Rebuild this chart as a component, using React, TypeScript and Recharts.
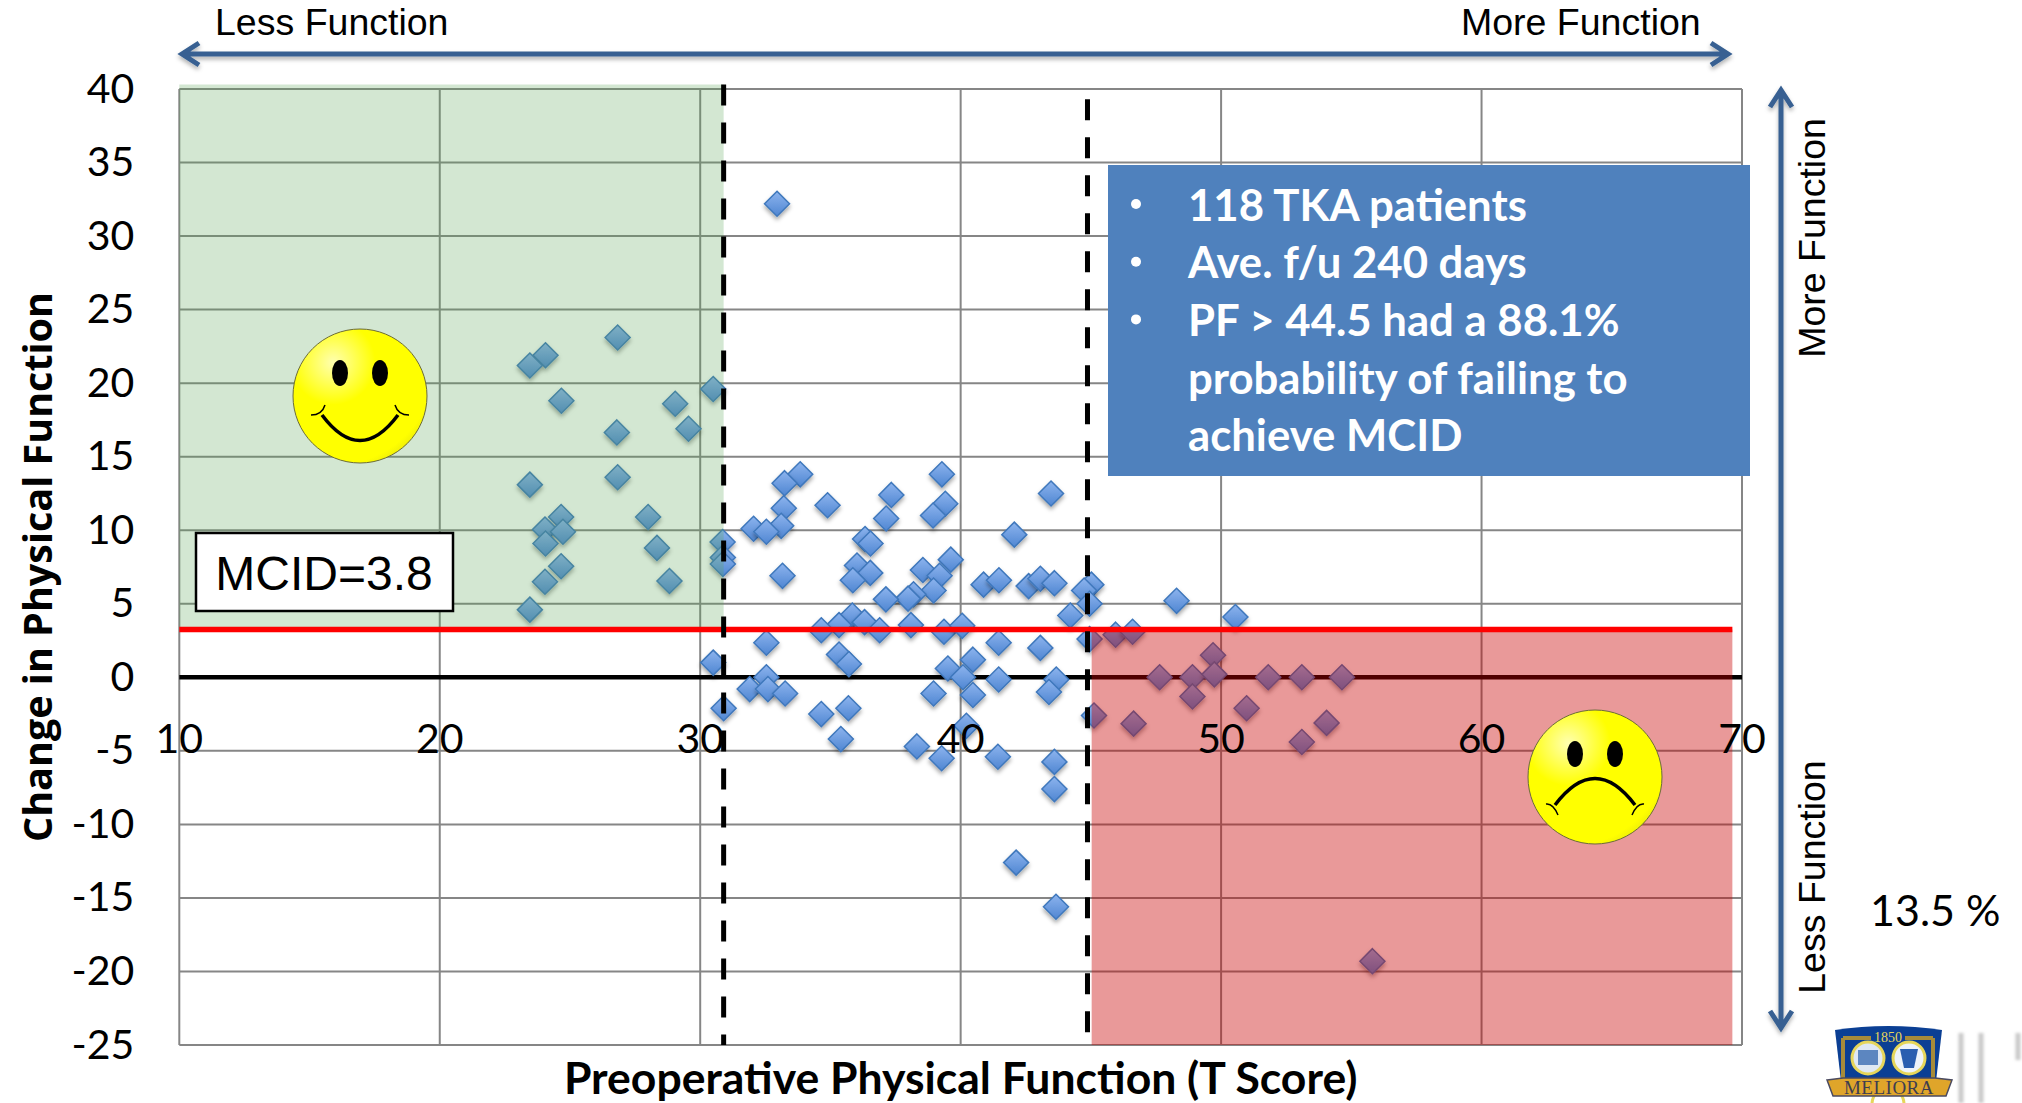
import { ScatterChart, Scatter, XAxis, YAxis, CartesianGrid, ReferenceLine, ReferenceArea, Label } from "recharts";

const preopScore = [
  26.83, 24.06, 23.46, 24.67, 30.5, 29.04, 29.55, 26.8, 26.83, 23.46, 24.66, 28.0, 24.04, 24.73, 24.06, 28.34, 30.86,
  30.87, 30.87, 24.66, 24.04, 28.82, 23.46, 32.95, 33.84, 33.24, 33.21, 33.11, 32.05, 32.54, 34.89, 37.34, 37.14, 39.28,
  39.41, 38.94, 43.47, 42.06, 36.33, 36.54, 33.16, 36.02, 36.53, 35.86, 39.62, 38.55, 39.19, 38.96, 38.19, 37.98, 37.13,
  40.88, 41.47, 42.61, 43.06, 43.6, 45.02, 44.74, 44.95, 44.21, 35.84, 36.31, 35.33, 34.65, 36.89, 38.09, 39.36, 40.06,
  41.46, 32.54, 43.06, 44.95, 45.95, 46.6, 35.33, 35.71, 30.5, 40.47, 39.51, 40.09, 41.46, 43.67, 43.39, 32.54, 31.9,
  32.6, 33.26, 38.96, 40.47, 30.9, 34.65, 35.69, 45.12, 46.64, 40.22, 35.4, 38.32, 39.27, 41.43, 43.6, 43.6, 42.13,
  43.66, 48.29, 50.55, 49.69, 47.64, 48.9, 49.74, 51.81, 53.1, 54.64, 48.9, 50.98, 54.05, 53.1, 55.81,
];
const changeScore = [
  23.1, 21.9, 21.2, 18.8, 19.6, 18.6, 16.9, 16.65, 13.6, 13.1, 10.9, 10.9, 10.05, 9.9, 9.1, 8.8, 9.2,
  8.15, 7.7, 7.55, 6.5, 6.55, 4.6, 32.2, 13.8, 13.2, 11.5, 10.3, 10.1, 9.9, 11.7, 12.4, 10.8, 13.8,
  11.8, 11.0, 12.5, 9.7, 9.4, 9.1, 6.9, 7.6, 7.1, 6.6, 8.0, 7.3, 6.9, 5.9, 5.65, 5.35, 5.3,
  6.3, 6.6, 6.2, 6.7, 6.4, 6.3, 5.9, 5.0, 4.2, 4.2, 3.75, 3.55, 3.2, 3.2, 3.55, 3.1, 3.5,
  2.35, 2.35, 2.0, 2.6, 2.9, 3.1, 1.55, 0.9, 1.0, 1.2, 0.6, 0, -0.15, -0.15, -1.0, 0, -0.8,
  -0.8, -1.1, -1.1, -1.2, -2.1, -2.5, -2.1, -2.6, -3.15, -3.3, -4.2, -4.7, -5.5, -5.4, -5.75, -7.6, -12.6,
  -15.6, 5.2, 4.1, 1.5, 0, 0, 0.2, 0, 0, 0, -1.3, -2.1, -3.1, -4.4, -19.3,
];
const patients = preopScore.map((x, i) => ({ x, y: changeScore[i] }));

const xTicks = [10, 20, 30, 40, 50, 60, 70];
const yTicks = [40, 35, 30, 25, 20, 15, 10, 5, 0, -5, -10, -15, -20, -25];
const mcidLine = 3.25;
const lowCut = 30.9;
const highCut = 44.87;
const bullets = ["118 TKA patients", "Ave. f/u 240 days", "PF > 44.5 had a 88.1%"];
const bulletRest = ["probability of failing to", "achieve MCID"];

const Diamond = (props: any) => {
  const { cx, cy } = props;
  const r = 12.5;
  return (
    <path
      d={`M${cx},${cy - r}L${cx + r},${cy}L${cx},${cy + r}L${cx - r},${cy}Z`}
      fill="url(#markerFill)"
      stroke="#3f78bc"
      strokeWidth={1.5}
      filter="url(#markerShadow)"
    />
  );
};

const XTick = (props: any) => (
  <text x={props.x} y={props.y - 300} textAnchor="middle" fontSize={41} fontFamily="Lato" fill="#000">
    {props.payload.value}
  </text>
);

const Smiley = ({ cx, cy, sad }: { cx: number; cy: number; sad?: boolean }) => (
  <g>
    <circle cx={cx} cy={cy} r={67} fill="url(#faceFill)" stroke="#6b6b3a" strokeWidth={1} />
    <ellipse cx={cx - 20} cy={cy - 23} rx={8} ry={13} fill="#000" />
    <ellipse cx={cx + 20} cy={cy - 23} rx={8} ry={13} fill="#000" />
    {sad ? (
      <g fill="none" stroke="#000">
        <path d={`M${cx - 40},${cy + 28} Q${cx},${cy - 25} ${cx + 40},${cy + 28}`} strokeWidth={3.5} />
        <path d={`M${cx - 49},${cy + 27} Q${cx - 42},${cy + 26} ${cx - 37},${cy + 38}`} strokeWidth={1.5} />
        <path d={`M${cx + 49},${cy + 27} Q${cx + 42},${cy + 26} ${cx + 37},${cy + 38}`} strokeWidth={1.5} />
      </g>
    ) : (
      <g fill="none" stroke="#000">
        <path d={`M${cx - 38},${cy + 19} Q${cx},${cy + 70} ${cx + 38},${cy + 19}`} strokeWidth={3.5} />
        <path d={`M${cx - 49},${cy + 19} Q${cx - 38},${cy + 19} ${cx - 35},${cy + 9}`} strokeWidth={1.5} />
        <path d={`M${cx + 49},${cy + 19} Q${cx + 38},${cy + 19} ${cx + 35},${cy + 9}`} strokeWidth={1.5} />
      </g>
    )}
  </g>
);

export default function App() {
  return (
    <div style={{ position: "absolute", left: 0, top: 0, width: 2022, height: 1103, overflow: "hidden", background: "#fff" }}>
      <ScatterChart width={2022} height={1103} margin={{ top: 89, right: 280, bottom: 57, left: 119.3 }}>
        <defs>
          <linearGradient id="markerFill" x1="0" y1="0" x2="0" y2="1">
            <stop offset="0%" stopColor="#8db4ee" />
            <stop offset="100%" stopColor="#4f86d2" />
          </linearGradient>
          <filter id="markerShadow" x="-30%" y="-30%" width="160%" height="170%">
            <feDropShadow dx={0} dy={3} stdDeviation={2} floodColor="#000" floodOpacity={0.35} />
          </filter>
        </defs>
        <CartesianGrid stroke="#868686" strokeWidth={2} />
        <XAxis
          type="number"
          dataKey="x"
          domain={[10, 70]}
          ticks={xTicks}
          height={1}
          axisLine={false}
          tickLine={false}
          tick={<XTick />}
          interval={0}
        >
          <Label
            value="Preoperative Physical Function (T Score)"
            position="bottom"
            offset={16}
            style={{ fontSize: 44.5, fontWeight: 700, fontFamily: "Lato", fill: "#000" }}
          />
        </XAxis>
        <YAxis
          type="number"
          dataKey="y"
          domain={[-25, 40]}
          ticks={yTicks}
          width={60}
          axisLine={false}
          tickLine={false}
          tickSize={0}
          tickMargin={45}
          interval={0}
          tick={{ fontSize: 41, fontFamily: "Lato", fill: "#000", dy: -1 }}
        >
          <Label
            value="Change in Physical Function"
            angle={-90}
            position="left"
            offset={81}
            style={{ fontSize: 39.5, fontWeight: 700, fontFamily: "Open Sans", fill: "#000", textAnchor: "middle" }}
          />
        </YAxis>
        <ReferenceLine y={0} stroke="#000" strokeWidth={4.5} />
        <Scatter data={patients} shape={<Diamond />} isAnimationActive={false} />
        <ReferenceArea zIndex={650} x1={10} x2={lowCut} y1={mcidLine} y2={40.3} fill="#5ca759" fillOpacity={0.27} stroke="none" ifOverflow="visible" />
        <ReferenceArea zIndex={650} x1={45.03} x2={69.63} y1={-25} y2={mcidLine} fill="#c80000" fillOpacity={0.4} stroke="none" ifOverflow="visible" />
        <ReferenceLine
          zIndex={700}
          segment={[{ x: 10, y: mcidLine }, { x: 69.63, y: mcidLine }]}
          stroke="#ff0000"
          strokeWidth={5.5}
        />
        <ReferenceLine
          zIndex={750}
          segment={[{ x: lowCut, y: 40.3 }, { x: lowCut, y: -25 }]}
          stroke="#000"
          strokeWidth={5}
          strokeDasharray="21 17"
          ifOverflow="visible"
        />
        <ReferenceLine
          zIndex={750}
          segment={[{ x: highCut, y: 39.3 }, { x: highCut, y: -25 }]}
          stroke="#000"
          strokeWidth={5}
          strokeDasharray="21 17"
        />
      </ScatterChart>

      {/* annotations drawn on top of the chart */}
      <svg width={2022} height={1103} style={{ position: "absolute", left: 0, top: 0 }}>
        <defs>
          <radialGradient id="faceFill" cx="30%" cy="25%" r="90%">
            <stop offset="0%" stopColor="#ffffb0" />
            <stop offset="35%" stopColor="#ffff00" />
            <stop offset="85%" stopColor="#ffff00" />
            <stop offset="100%" stopColor="#dede10" />
          </radialGradient>
          <filter id="arrowShadow" x="-5%" y="-5%" width="110%" height="110%">
            <feDropShadow dx={0} dy={3} stdDeviation={2} floodColor="#000" floodOpacity={0.3} />
          </filter>
          <filter id="soft" x="-20%" y="-20%" width="140%" height="140%">
            <feGaussianBlur stdDeviation={1.5} />
          </filter>
        </defs>

        <g fill="none" stroke="#376092" strokeWidth={5} filter="url(#arrowShadow)">
          <path d="M182,54H1728M199,43L182,54L199,65M1711,43L1728,54L1711,65" />
          <path d="M1781,90V1028M1770,107L1781,90L1792,107M1770,1011L1781,1028L1792,1011" />
        </g>

        <g fontFamily="Liberation Sans" fontSize={37.5} fill="#000">
          <text x={215} y={35}>Less Function</text>
          <text x={1461} y={35}>More Function</text>
          <text transform="translate(1825,238) rotate(-90)" textAnchor="middle">More Function</text>
          <text transform="translate(1825,877) rotate(-90)" textAnchor="middle">Less Function</text>
        </g>

        <rect x={196} y={533} width={257} height={78} fill="#fff" stroke="#000" strokeWidth={2.5} />
        <text x={324} y={590} textAnchor="middle" fontFamily="Liberation Sans" fontSize={48} fill="#000">MCID=3.8</text>

        <rect x={1108} y={165} width={642} height={311} fill="#4f81bd" />
        <g fontFamily="Lato" fontWeight={700} fontSize={43.7} fill="#fff">
          {bullets.map((t, i) => (
            <g key={t}>
              <circle cx={1136} cy={204 + i * 57.7} r={5} />
              <text x={1188} y={220.5 + i * 57.7}>{t}</text>
            </g>
          ))}
          {bulletRest.map((t, i) => (
            <text key={t} x={1188} y={393.5 + i * 57.7}>{t}</text>
          ))}
        </g>

        <Smiley cx={360} cy={396} />
        <Smiley cx={1595} cy={777} sad />

        <text x={1870} y={926} fontFamily="Lato" fontSize={43} fill="#000">13.5 %</text>

        {/* crest in the corner */}
        <path d="M1835,1030Q1888,1022 1942,1030L1935,1090H1842Z" fill="#0b3f94" />
        <path d="M1843,1038H1933M1843,1038V1078M1933,1038V1078" fill="none" stroke="#a78b3a" strokeWidth={4} />
        <rect x={1871} y={1028} width={34} height={17} fill="#0b3f94" />
        <text x={1888} y={1042} textAnchor="middle" fontFamily="Liberation Serif" fontSize={14} fill="#e6d65a">1850</text>
        <circle cx={1868} cy={1058} r={16} fill="#dfe8f3" stroke="#e6d65a" strokeWidth={3} />
        <circle cx={1909} cy={1058} r={16} fill="#eef3fa" stroke="#e6d65a" strokeWidth={3} />
        <rect x={1858} y={1050} width={20} height={15} fill="#5c86c0" />
        <path d="M1900,1049H1918L1914,1068H1904Z" fill="#2a5eb0" />
        <circle cx={1888} cy={1104} r={16} fill="#fff" stroke="#e6d65a" strokeWidth={3} />
        <path d="M1827,1080L1843,1078H1935L1952,1080L1946,1096H1833Z" fill="#dfa52a" stroke="#4a4a60" strokeWidth={1.5} />
        <text x={1889} y={1094} textAnchor="middle" fontFamily="Liberation Serif" fontSize={19} letterSpacing={0.5} fill="#3d3d50">MELIORA</text>

        <g fill="none" stroke="#c9c9c9" strokeWidth={5} filter="url(#soft)">
          <path d="M1961,1033V1103" />
          <path d="M1981,1033V1103" />
          <path d="M2018,1033V1060" />
        </g>
      </svg>
    </div>
  );
}
